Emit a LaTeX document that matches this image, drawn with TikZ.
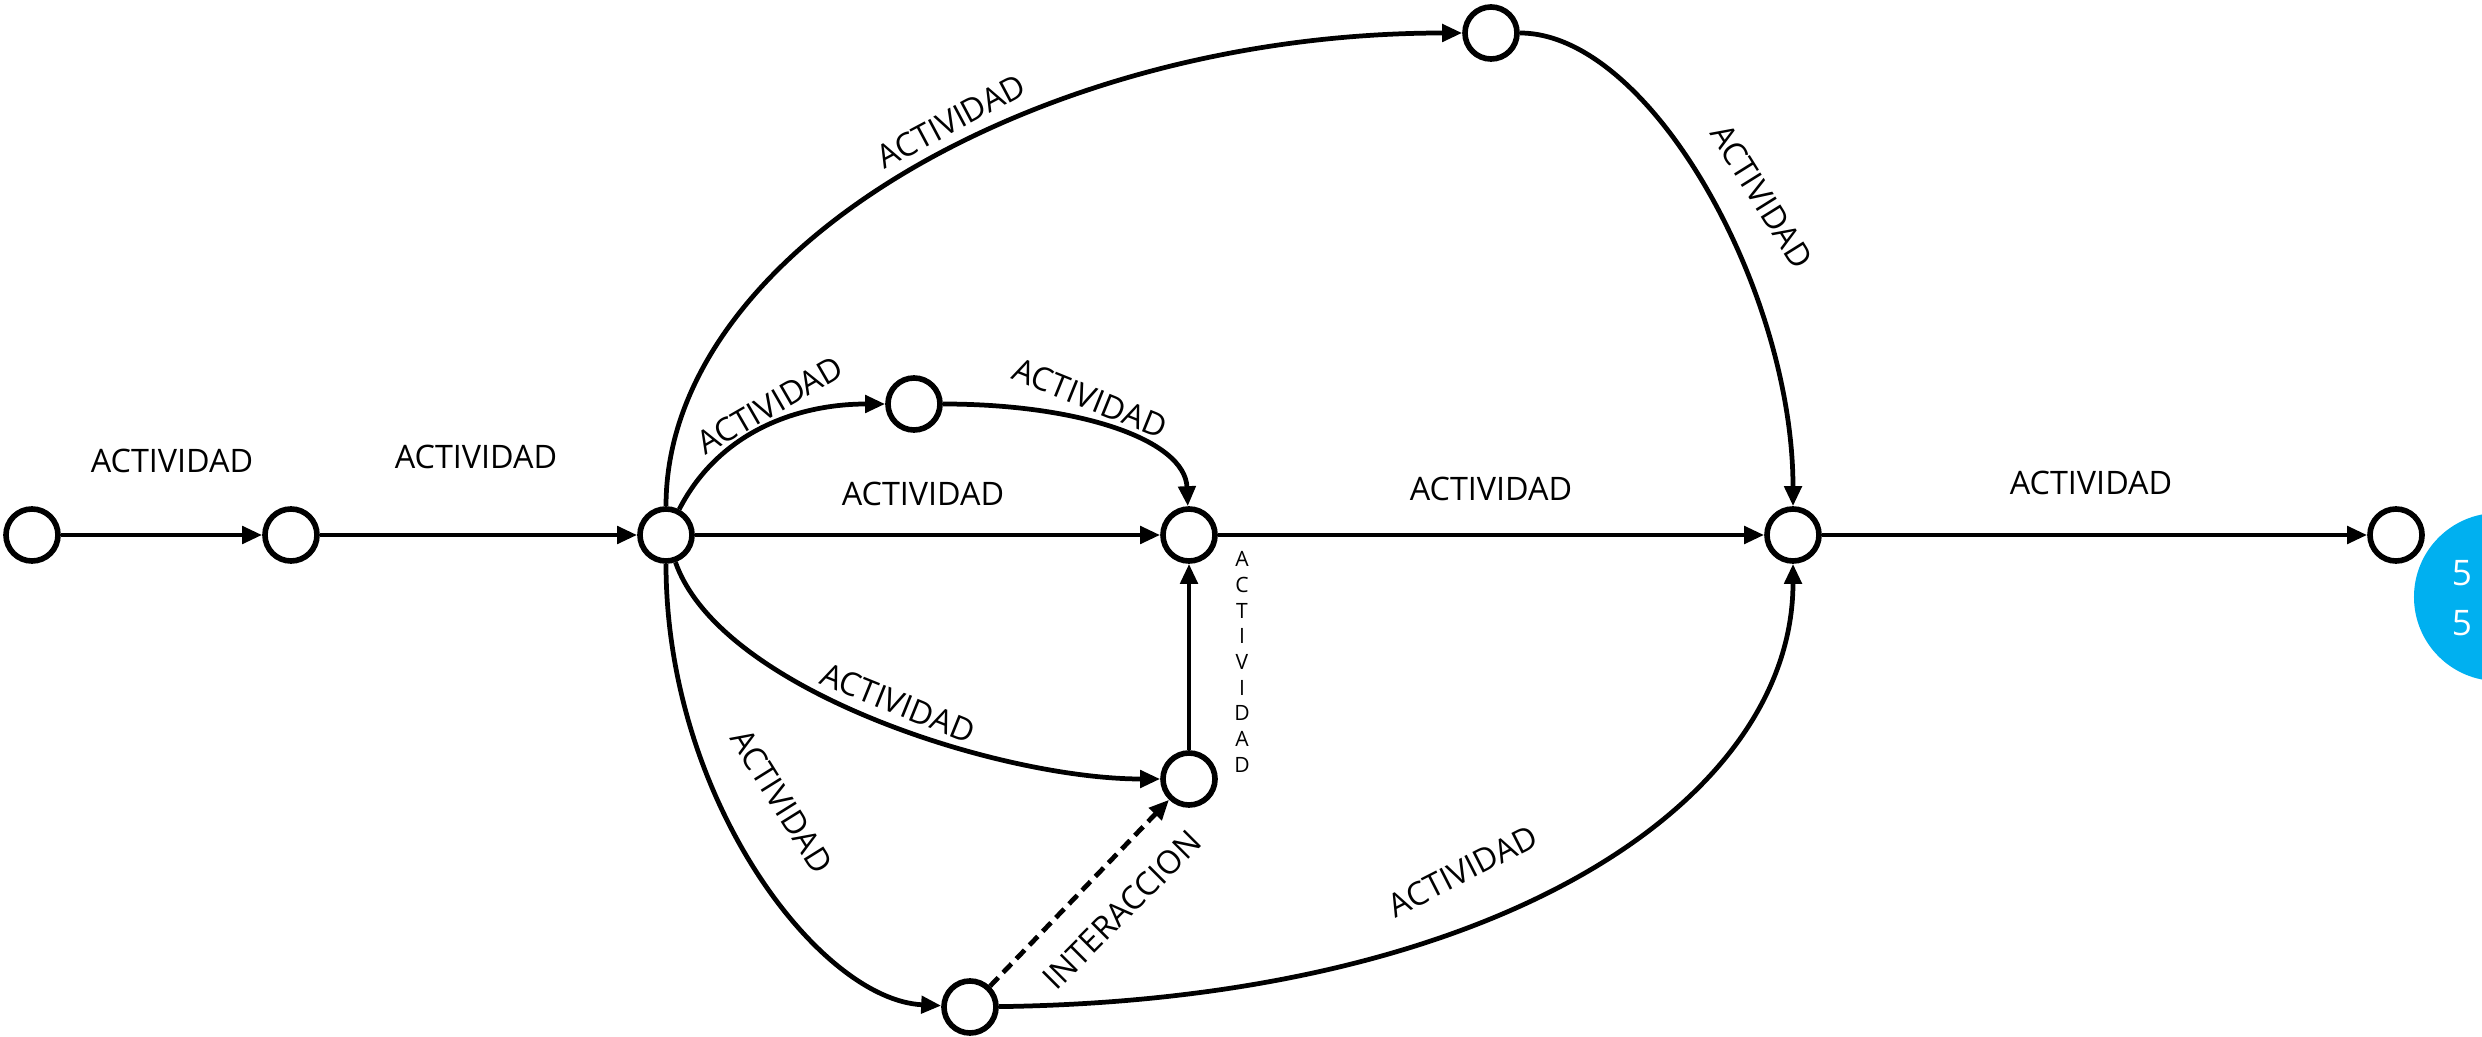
\documentclass[tikz,border=0pt]{standalone}
\usepackage{fontspec}
\setmainfont{Open Sans}
\usepackage{xcolor}
\usepackage{tikz}
\usetikzlibrary{arrows.meta}
\definecolor{slideblue}{RGB}{0,176,240}

\tikzset{
  event/.style={circle,draw,line width=1.6pt,minimum size=5.2mm,inner sep=0pt,fill=white},
  act/.style={line width=1.35pt,-{Triangle[length=2mm,width=1.7mm]}},
  lbl/.style={font=\fontsize{9.2}{11}\selectfont,inner sep=0pt},
}

\begin{document}
\begin{tikzpicture}[x=0.01cm,y=-0.01cm]
  \useasboundingbox (0,0) rectangle (2482,1037);
  \fill[slideblue] (2498,597) circle (8.4mm);
  \node[font=\fontsize{10}{14.2}\selectfont,text=white,align=center,inner sep=0pt] (pg) at (2462,598) {5\\5};
  \node[event] (e1) at (32,535) {};
  \node[event] (e2) at (291,535) {};
  \node[event] (e3) at (666,535) {};
  \node[event] (e4) at (1491,33) {};
  \node[event] (e5) at (914,404) {};
  \node[event] (e6) at (1189,535) {};
  \node[event] (e7) at (1793,535) {};
  \node[event] (e8) at (2396,535) {};
  \node[event] (e9) at (1189,779) {};
  \node[event] (e10) at (970,1007) {};
  \draw[act] (e1) -- (e2);
  \draw[act] (e2) -- (e3);
  \draw[act] (e3) .. controls (666,250) and (1040,33) .. (e4);
  \draw[act] (e4) .. controls (1650,33) and (1793,290) .. (e7);
  \draw[act] (e3) .. controls (720,430) and (800,404) .. (e5);
  \draw[act] (e5) .. controls (1080,404) and (1185,440) .. (e6);
  \draw[act] (e3) -- (e6);
  \draw[act] (e3) .. controls (720,690) and (1000,779) .. (e9);
  \draw[act] (e3) .. controls (666,800) and (820,1000) .. (e10);
  \draw[act] (e10) .. controls (1500,1000) and (1793,800) .. (e7);
  \draw[act,dash pattern=on 1.2mm off 0.7mm] (e10) -- (e9);
  \draw[act] (e9) -- (e6);
  \draw[act] (e6) -- (e7);
  \draw[act] (e7) -- (e8);
  \node[lbl] (l12) at (172,461) {ACTIVIDAD};
  \node[lbl] (l23) at (476,457) {ACTIVIDAD};
  \node[lbl,rotate=28] (l34) at (951,121) {ACTIVIDAD};
  \node[lbl,rotate=-58] (l47) at (1762,196) {ACTIVIDAD};
  \node[lbl,rotate=30] (l35) at (770,405) {ACTIVIDAD};
  \node[lbl,rotate=-22] (l56) at (1090,398) {ACTIVIDAD};
  \node[lbl] (l36) at (923,494) {ACTIVIDAD};
  \node[lbl,rotate=-22] (l39) at (898,703) {ACTIVIDAD};
  \node[lbl,rotate=-58] (l310) at (782,801) {ACTIVIDAD};
  \node[lbl,rotate=45] (l109) at (1122,910) {INTERACCION};
  \node[lbl,rotate=27] (l107) at (1463,871) {ACTIVIDAD};
  \node[lbl] (l67) at (1491,489) {ACTIVIDAD};
  \node[lbl] (l78) at (2091,483) {ACTIVIDAD};
  \node[font=\fontsize{6}{7.3}\selectfont,align=center,inner sep=0pt] (l96) at (1242,662) {A\\C\\T\\I\\V\\I\\D\\A\\D};
\end{tikzpicture}
\end{document}
